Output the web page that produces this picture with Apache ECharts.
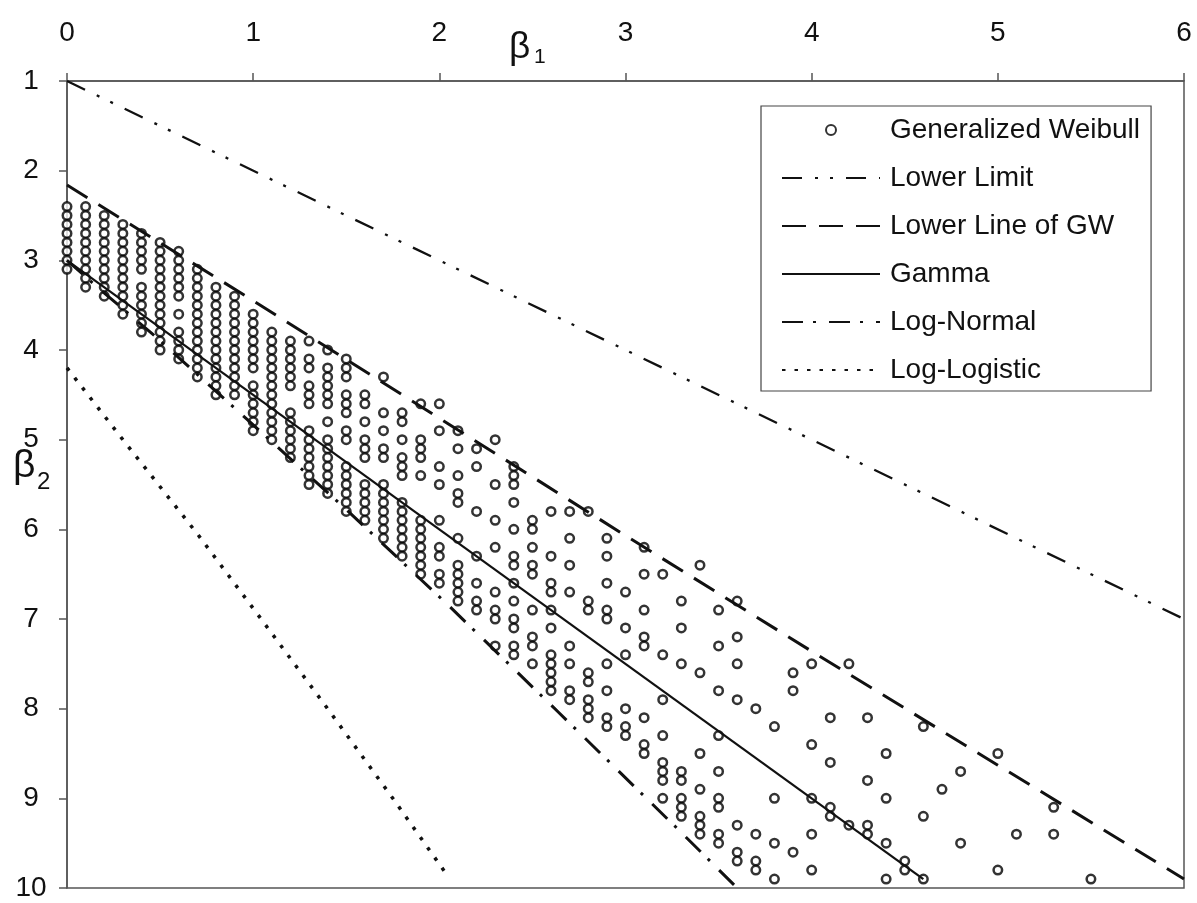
<!DOCTYPE html>
<html><head><meta charset="utf-8">
<script src="https://cdn.jsdelivr.net/npm/echarts@6/dist/echarts.min.js"></script>
<style>html,body{margin:0;padding:0;background:#fff}#c{width:1197px;height:903px}</style>
</head><body><div id="c"></div>
<script>
// ---- data ----
const xTicks = [0, 1, 2, 3, 4, 5, 6];
const yTicks = [1, 2, 3, 4, 5, 6, 7, 8, 9, 10];
const seriesNames = ['Generalized Weibull', 'Lower Limit', 'Lower Line of GW', 'Gamma', 'Log-Normal', 'Log-Logistic'];

// Generalized Weibull points: beta1 column values and the beta2 values in each column
const gwBeta1 = [0, 0.1, 0.2, 0.3, 0.4, 0.5, 0.6, 0.7, 0.8, 0.9, 1.0, 1.1, 1.2, 1.3, 1.4, 1.5, 1.6, 1.7, 1.8, 1.9,
  2.0, 2.1, 2.2, 2.3, 2.4, 2.5, 2.6, 2.7, 2.8, 2.9, 3.0, 3.1, 3.2, 3.3, 3.4, 3.5, 3.6, 3.7, 3.8, 3.9,
  4.0, 4.1, 4.2, 4.3, 4.4, 4.5, 4.6, 4.7, 4.8, 5.0, 5.1, 5.3, 5.5];
const gwBeta2 = [
  [2.4, 2.5, 2.6, 2.7, 2.8, 2.9, 3.0, 3.1],
  [2.4, 2.5, 2.6, 2.7, 2.8, 2.9, 3.0, 3.1, 3.2, 3.3],
  [2.5, 2.6, 2.7, 2.8, 2.9, 3.0, 3.1, 3.2, 3.3, 3.4],
  [2.6, 2.7, 2.8, 2.9, 3.0, 3.1, 3.2, 3.3, 3.4, 3.5, 3.6],
  [2.7, 2.8, 2.9, 3.0, 3.1, 3.3, 3.4, 3.5, 3.6, 3.7, 3.8],
  [2.8, 2.9, 3.0, 3.1, 3.2, 3.3, 3.4, 3.5, 3.6, 3.7, 3.8, 3.9, 4.0],
  [2.9, 3.0, 3.1, 3.2, 3.3, 3.4, 3.6, 3.8, 3.9, 4.0, 4.1],
  [3.1, 3.2, 3.3, 3.4, 3.5, 3.6, 3.7, 3.8, 3.9, 4.0, 4.1, 4.2, 4.3],
  [3.3, 3.4, 3.5, 3.6, 3.7, 3.8, 3.9, 4.0, 4.1, 4.2, 4.3, 4.4, 4.5],
  [3.4, 3.5, 3.6, 3.7, 3.8, 3.9, 4.0, 4.1, 4.2, 4.3, 4.4, 4.5],
  [3.6, 3.7, 3.8, 3.9, 4.0, 4.1, 4.2, 4.4, 4.5, 4.6, 4.7, 4.8, 4.9],
  [3.8, 3.9, 4.0, 4.1, 4.2, 4.3, 4.4, 4.5, 4.6, 4.7, 4.8, 4.9, 5.0],
  [3.9, 4.0, 4.1, 4.2, 4.3, 4.4, 4.7, 4.8, 4.9, 5.0, 5.1, 5.2],
  [3.9, 4.1, 4.2, 4.4, 4.5, 4.6, 4.9, 5.0, 5.1, 5.2, 5.3, 5.4, 5.5],
  [4.0, 4.2, 4.3, 4.4, 4.5, 4.6, 4.8, 5.0, 5.1, 5.2, 5.3, 5.4, 5.5, 5.6],
  [4.1, 4.2, 4.3, 4.5, 4.6, 4.7, 4.9, 5.0, 5.3, 5.4, 5.5, 5.6, 5.7, 5.8],
  [4.5, 4.6, 4.8, 5.0, 5.1, 5.2, 5.5, 5.6, 5.7, 5.8, 5.9],
  [4.3, 4.7, 4.9, 5.1, 5.2, 5.5, 5.6, 5.7, 5.8, 5.9, 6.0, 6.1],
  [4.7, 4.8, 5.0, 5.2, 5.3, 5.4, 5.7, 5.8, 5.9, 6.0, 6.1, 6.2, 6.3],
  [4.6, 5.0, 5.1, 5.2, 5.4, 5.9, 6.0, 6.1, 6.2, 6.3, 6.4, 6.5],
  [4.6, 4.9, 5.3, 5.5, 5.9, 6.2, 6.3, 6.5, 6.6],
  [4.9, 5.1, 5.4, 5.6, 5.7, 6.1, 6.4, 6.5, 6.6, 6.7, 6.8],
  [5.1, 5.3, 5.8, 6.3, 6.6, 6.8, 6.9],
  [5.0, 5.5, 5.9, 6.2, 6.7, 6.9, 7.0, 7.3],
  [5.3, 5.4, 5.5, 5.7, 6.0, 6.3, 6.4, 6.6, 6.8, 7.0, 7.1, 7.3, 7.4],
  [5.9, 6.0, 6.2, 6.4, 6.5, 6.9, 7.2, 7.3, 7.5],
  [5.8, 6.3, 6.6, 6.7, 6.9, 7.1, 7.4, 7.5, 7.6, 7.7, 7.8],
  [5.8, 6.1, 6.4, 6.7, 7.3, 7.5, 7.8, 7.9],
  [5.8, 6.8, 6.9, 7.6, 7.7, 7.9, 8.0, 8.1],
  [6.1, 6.3, 6.6, 6.9, 7.0, 7.5, 7.8, 8.1, 8.2],
  [6.7, 7.1, 7.4, 8.0, 8.2, 8.3],
  [6.2, 6.5, 6.9, 7.2, 7.3, 8.1, 8.4, 8.5],
  [6.5, 7.4, 7.9, 8.3, 8.6, 8.7, 8.8, 9.0],
  [6.8, 7.1, 7.5, 8.7, 8.8, 9.0, 9.1, 9.2],
  [6.4, 7.6, 8.5, 8.9, 9.2, 9.3, 9.4],
  [6.9, 7.3, 7.8, 8.3, 8.7, 9.0, 9.1, 9.4, 9.5],
  [6.8, 7.2, 7.5, 7.9, 9.3, 9.6, 9.7],
  [8.0, 9.4, 9.7, 9.8],
  [8.2, 9.0, 9.5, 9.9],
  [7.6, 7.8, 9.6],
  [7.5, 8.4, 9.0, 9.4, 9.8],
  [8.1, 8.6, 9.1, 9.2],
  [7.5, 9.3],
  [8.1, 8.8, 9.3, 9.4],
  [8.5, 9.0, 9.5, 9.9],
  [9.7, 9.8],
  [8.2, 9.2, 9.9],
  [8.9],
  [8.7, 9.5],
  [8.5, 9.8],
  [9.4],
  [9.1, 9.4],
  [9.9]
];

// Curves: [beta1, beta2] points
const lowerLimit = [[0, 1], [6, 7]];
const lowerLineGW = [[0, 2.16], [1, 3.45], [2, 4.76], [3, 6.07], [4, 7.36], [5, 8.63], [6, 9.9]];
const gammaLine = [[0, 3], [4.6, 9.9]];
const logNormal = [[0, 3], [0.18, 3.33], [0.47, 3.84], [0.96, 4.76], [1.49, 5.76], [2.05, 6.85], [2.64, 8.04], [3.27, 9.32], [3.6, 10]];
const logLogistic = [[0, 4.2], [0.3, 5.0], [0.7, 6.05], [1.05, 7.02], [1.4, 8.0], [1.75, 9.0], [2.05, 9.88]];

// ---- chart ----
const FONT = "'Liberation Sans', Arial, sans-serif";
const INK = '#111';
const AX = '#555';
const NONE = 'rgba(0,0,0,0)';

const gwPoints = [];
gwBeta1.forEach((b1, i) => gwBeta2[i].forEach(b2 => gwPoints.push([b1, b2])));

function lineSeries(name, data, width, type) {
  return {
    name, type: 'line', data, showSymbol: false, symbol: 'none', silent: true, z: 3,
    lineStyle: { color: INK, width, type, cap: 'butt' },
    itemStyle: { color: NONE, borderColor: NONE, borderWidth: 0 }
  };
}

const chart = echarts.init(document.getElementById('c'), null, { renderer: 'canvas', width: 1197, height: 903 });
chart.setOption({
  animation: false,
  backgroundColor: '#fff',
  grid: { left: 67, right: 13, top: 81, bottom: 15, show: true, borderColor: AX, borderWidth: 1.5, backgroundColor: 'transparent' },
  xAxis: {
    type: 'value', position: 'top', min: xTicks[0], max: xTicks[xTicks.length - 1], interval: 1,
    axisLine: { show: true, onZero: false, lineStyle: { color: AX, width: 1.5 } },
    axisTick: { show: true, inside: false, length: 8, lineStyle: { color: AX, width: 1.5 } },
    axisLabel: { fontSize: 28, color: INK, fontFamily: FONT, margin: 34 },
    splitLine: { show: false }
  },
  yAxis: {
    type: 'value', inverse: true, min: yTicks[0], max: yTicks[yTicks.length - 1], interval: 1,
    axisLine: { show: true, onZero: false, lineStyle: { color: AX, width: 1.5 } },
    axisTick: { show: true, inside: false, length: 8, lineStyle: { color: AX, width: 1.5 } },
    axisLabel: { fontSize: 28, color: INK, fontFamily: FONT, margin: 36, align: 'center' },
    splitLine: { show: false }
  },
  legend: {
    data: seriesNames, orient: 'vertical', left: 761, top: 106,
    itemWidth: 98, itemHeight: 10, itemGap: 18,
    padding: [9, 11, 6, 20],
    borderColor: '#444', borderWidth: 1.2, backgroundColor: '#fff',
    selectedMode: false,
    textStyle: { fontSize: 28, color: INK, fontFamily: FONT, lineHeight: 30, padding: [0, 0, 0, 5] }
  },
  graphic: [
    { type: 'text', left: 509, top: 29, silent: true, style: { text: 'β', font: '37px ' + FONT, fill: INK } },
    { type: 'text', left: 534, top: 47, silent: true, style: { text: '1', font: '21px ' + FONT, fill: INK } },
    { type: 'text', left: 13, top: 447, silent: true, style: { text: 'β', font: '39px ' + FONT, fill: INK } },
    { type: 'text', left: 37, top: 470, silent: true, style: { text: '2', font: '24px ' + FONT, fill: INK } }
  ],
  series: [
    {
      name: seriesNames[0], type: 'scatter', data: gwPoints, symbol: 'circle', symbolSize: 8.5, silent: true, z: 2,
      itemStyle: { color: '#fff', borderColor: '#000', borderWidth: 2.5 }
    },
    lineSeries(seriesNames[1], lowerLimit, 2.3, [20, 13, 3, 12, 3, 13]),
    lineSeries(seriesNames[2], lowerLineGW, 3, [24, 13]),
    lineSeries(seriesNames[3], gammaLine, 2.2, 'solid'),
    lineSeries(seriesNames[4], logNormal, 3, [21, 10, 3, 13]),
    lineSeries(seriesNames[5], logLogistic, 3.5, [3.5, 9])
  ]
});
</script></body></html>
